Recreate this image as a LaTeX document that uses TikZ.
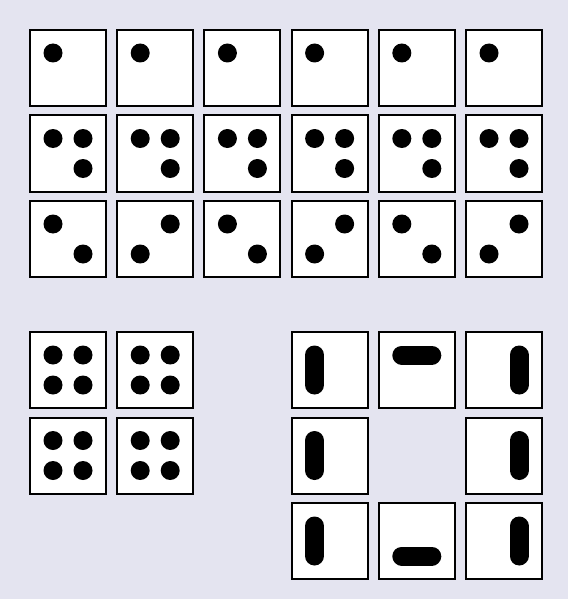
\documentclass[tikz,border=0pt]{standalone}
\usepackage{tikz}
\usepackage{xcolor}
\definecolor{panel}{RGB}{228,228,240}

\begin{document}
\begin{tikzpicture}[
    x=1pt,y=-1pt,
    die/.style={draw,line width=2pt,fill=white,minimum size=76pt,inner sep=0pt},
    pip/.style={fill=black},
    bar/.style={line width=19pt,line cap=round}
  ]
    \fill[panel] (0,0) rectangle (568,599);

    % three rows of six dice
    \foreach \i in {0,...,5}{
      \pgfmathsetmacro{\xc}{68+87.2*\i}
      \node[die] (one\i) at (\xc,68) {};
      \node[die] (three\i) at (\xc,153.5) {};
      \node[die] (two\i) at (\xc,239) {};
      \fill[pip] ([shift={(-15,-15)}]one\i.center) circle[radius=9.5pt];
      \foreach \p in {(-15,-15),(15,-15),(15,15)}
        \fill[pip] ([shift={\p}]three\i.center) circle[radius=9.5pt];
      \ifodd\i
        \fill[pip] ([shift={(15,-15)}]two\i.center) circle[radius=9.5pt];
        \fill[pip] ([shift={(-15,15)}]two\i.center) circle[radius=9.5pt];
      \else
        \fill[pip] ([shift={(-15,-15)}]two\i.center) circle[radius=9.5pt];
        \fill[pip] ([shift={(15,15)}]two\i.center) circle[radius=9.5pt];
      \fi
    }

    % block of four dice
    \foreach \n/\x/\y in {a/68/370, b/155.2/370, c/68/455.5, d/155.2/455.5}{
      \node[die] (four\n) at (\x,\y) {};
      \foreach \p in {(-15,-15),(15,-15),(-15,15),(15,15)}
        \fill[pip] ([shift={\p}]four\n.center) circle[radius=9.5pt];
    }

    % ring of bars
    \foreach \n/\x/\y in {nw/329.6/370, n/416.8/370, ne/504/370,
                          w/329.6/455.5, e/504/455.5,
                          sw/329.6/541, s/416.8/541, se/504/541}
      \node[die] (bar\n) at (\x,\y) {};
    \foreach \n in {nw,w,sw}
      \draw[bar] ([shift={(-15,-15)}]bar\n.center) -- ([shift={(-15,15)}]bar\n.center);
    \foreach \n in {ne,e,se}
      \draw[bar] ([shift={(15,-15)}]bar\n.center) -- ([shift={(15,15)}]bar\n.center);
    \draw[bar] ([shift={(-15,-15)}]barn.center) -- ([shift={(15,-15)}]barn.center);
    \draw[bar] ([shift={(-15,15)}]bars.center) -- ([shift={(15,15)}]bars.center);
  \end{tikzpicture}
\end{document}
